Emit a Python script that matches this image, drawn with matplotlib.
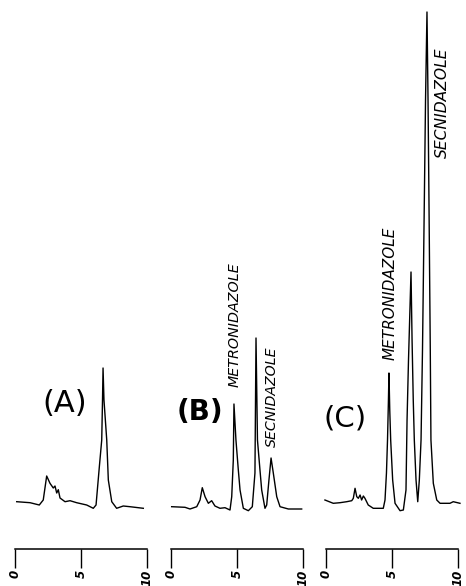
import matplotlib
matplotlib.use("Agg")
import matplotlib.pyplot as plt
from matplotlib import font_manager

# ---- data: chromatogram traces (time in min, detector response in arbitrary units) ----
time_A = [0.13, 1.14, 1.84, 2.14, 2.40, 2.65, 2.90, 3.03, 3.16, 3.28, 3.41, 3.79, 4.17,
          4.67, 5.43, 5.93, 6.14, 6.39, 6.57, 6.63, 6.67, 6.74, 6.95, 7.07, 7.33, 7.70,
          8.20, 8.71, 9.72]
resp_A = [3.3, 2.3, 0, 5, 29, 21.7, 17, 19, 12, 15.3, 7, 3.3, 4.3,
          2.3, 0, -3.3, 0, 38.3, 65, 105, 137, 105, 65, 25, 3.3, -3.3,
          -1, -1.7, -3.3]

time_B = [0.05, 1.06, 1.44, 1.95, 2.20, 2.37, 2.58, 2.83, 3.08, 3.33, 3.71, 4.09, 4.47,
          4.60, 4.72, 4.77, 4.92, 5.10, 5.23, 5.48, 5.86, 6.16, 6.36, 6.44, 6.55, 6.74,
          6.87, 7.12, 7.25, 7.42, 7.58, 7.75, 8.01, 8.26, 8.89, 9.90]
resp_B = [-1.7, -2.3, -4, -1.7, 5, 17.3, 8.3, 1.7, 4.3, -1, -3.3, -2.7, -5,
          8.3, 45, 101, 65, 35, 15, -3.3, -5.7, -1.7, 32, 167, 65, 35,
          15, -3.3, 0, 25, 47, 32, 8.3, -1.7, -4, -4]

time_C = [-0.08, 0.55, 1.06, 1.57, 1.95, 2.07, 2.20, 2.33, 2.45, 2.58, 2.70, 2.83, 2.95,
          3.20, 3.58, 4.34, 4.47, 4.58, 4.66, 4.73, 4.77, 4.83, 4.90, 5.05, 5.23, 5.61,
          5.86, 6.06, 6.14, 6.25, 6.44, 6.52, 6.61, 6.69, 6.82, 6.95, 7.07, 7.20, 7.31,
          7.45, 7.54, 7.65, 7.73, 7.80, 7.90, 7.95, 8.13, 8.39, 8.64, 9.39, 9.64, 10.15]
resp_C = [5, 1.7, 2.3, 3.3, 4.3, 6.7, 16.7, 8.3, 6.7, 10, 5, 9, 6.7,
          0, -3.3, -3.3, 5, 32, 65, 105, 132, 95, 65, 25, 1.7, -5.7,
          -5, 15, 85, 145, 233, 165, 105, 65, 25, 3.3, 25, 65, 155,
          305, 405, 493, 405, 305, 155, 65, 21.7, 5, 1.7, 1.7, 3.3, 1.7]

panel_labels = ["(A)", "(B)", "(C)"]
tick_values = [0, 5, 10]
tick_labels = ["0", "5", "10"]

# peak annotations: (panel index, text, time, response)
peak_names = ["METRONIDAZOLE", "SECNIDAZOLE", "METRONIDAZOLE", "SECNIDAZOLE"]
peak_panel = [1, 1, 2, 2]
peak_time = [4.85, 7.65, 4.85, 8.79]
peak_resp = [180, 108, 212, 402]

# choose a narrow font if available
names = {f.name for f in font_manager.fontManager.ttflist}
if "Liberation Sans Narrow" in names:
    ann_family = ["Liberation Sans Narrow", "DejaVu Sans"]
    peak_size = [12.6, 12.4, 13.5, 14.0]
else:
    ann_family = ["DejaVu Sans"]
    peak_size = [10.3, 10.2, 11, 11.2]

# ---- layout ----
W, H = 466, 586
fig = plt.figure(figsize=(W / 100, H / 100), dpi=100)
px_per_min = 13.2
zero_px = [15, 171, 326]
xlim = (-0.5, 10.5)
ylim = (-81, 505)

traces = [(time_A, resp_A), (time_B, resp_B), (time_C, resp_C)]
label_pos = [(3.8, 102), (2.2, 93), (1.44, 87)]
label_size = [22, 20, 21]
label_weight = ["normal", "bold", "normal"]

axes = []
for i, (t, r) in enumerate(traces):
    left_px = zero_px[i] + xlim[0] * px_per_min
    width_px = (xlim[1] - xlim[0]) * px_per_min
    ax = fig.add_axes([left_px / W, 0, width_px / W, 1])
    ax.set_xlim(*xlim)
    ax.set_ylim(*ylim)
    ax.patch.set_alpha(0)
    ax.plot(t, r, color="black", lw=1.0, solid_joinstyle="round")
    for s in ["top", "left", "right"]:
        ax.spines[s].set_visible(False)
    ax.spines["bottom"].set_position(("data", -44))
    ax.spines["bottom"].set_bounds(0, 10)
    ax.spines["bottom"].set_linewidth(1.1)
    ax.set_yticks([])
    ax.set_xticks(tick_values)
    ax.set_xticklabels(tick_labels, rotation=90, fontsize=8.5, fontstyle="oblique",
                       fontweight="bold", va="top", ha="center")
    ax.tick_params(axis="x", direction="out", length=14, width=1.0, pad=1.0)
    lx, ly = label_pos[i]
    ax.text(lx, ly, panel_labels[i], fontsize=label_size[i], fontweight=label_weight[i],
            ha="center", va="center")
    axes.append(ax)

for name, p, t, r, s in zip(peak_names, peak_panel, peak_time, peak_resp, peak_size):
    axes[p].text(t, r, name, rotation=90, fontsize=s, fontstyle="italic",
                 family=ann_family, ha="center", va="center")

fig.savefig("out.png", dpi=100)
